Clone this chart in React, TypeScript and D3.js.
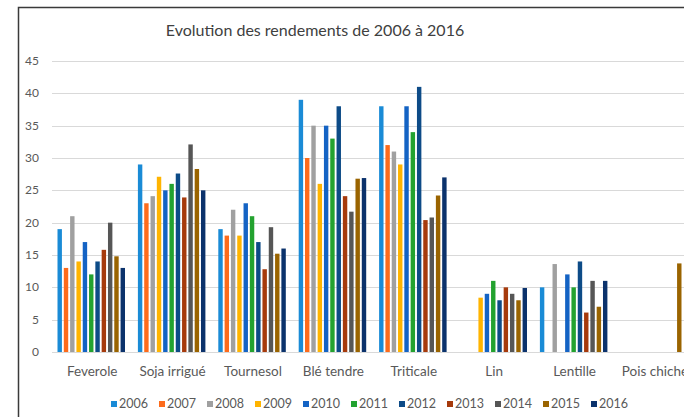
import * as d3 from 'd3';

const categories = ['Feverole', 'Soja irrigué', 'Tournesol', 'Blé tendre', 'Triticale', 'Lin', 'Lentille', 'Pois chiche'];
const years = ['2006', '2007', '2008', '2009', '2010', '2011', '2012', '2013', '2014', '2015', '2016'];
const colors = ['#1a8bd6', '#fd6b1b', '#a0a0a0', '#ffb400', '#1463c4', '#23a22f', '#0d4b87', '#a63a0c', '#565656', '#9a6400', '#0b326c'];

// one array per year, values in category order (null = no bar)
const y2006 = [19, 29, 19, 39, 38, null, 10, null];
const y2007 = [13, 23, 18, 30, 32, null, null, null];
const y2008 = [21, 24.1, 22, 35, 31, null, 13.6, null];
const y2009 = [14, 27.1, 18, 26, 29, 8.4, null, null];
const y2010 = [17, 25, 23, 35, 38, 9, 12, null];
const y2011 = [12, 26, 21, 33, 34, 11, 10, null];
const y2012 = [14, 27.6, 17, 38, 41, 8, 14, null];
const y2013 = [15.8, 23.9, 12.8, 24.1, 20.4, 10, 6.1, null];
const y2014 = [20, 32.1, 19.3, 21.7, 20.8, 9, 11, null];
const y2015 = [14.8, 28.3, 15.2, 26.8, 24.2, 8, 7, 13.7];
const y2016 = [13, 25, 16, 26.9, 27, 9.9, 11, null];

const series = [y2006, y2007, y2008, y2009, y2010, y2011, y2012, y2013, y2014, y2015, y2016];

const yTicks = [0, 5, 10, 15, 20, 25, 30, 35, 40, 45];

const W = 684;
const H = 417;
const font = 'Lato, "Open Sans", sans-serif';
const textColor = '#595959';

export default function App() {
  const x = d3.scaleBand<string>().domain(categories).range([52, 52 + 80.4 * 8]);
  const xi = d3.scaleBand<string>().domain(years).range([5.5, 73]).paddingInner(0.3);
  const y = d3.scaleLinear().domain([0, 45]).range([352, 61]);

  const legendX = d3.scaleBand<string>().domain(years).range([111, 111 + 48 * 11]);

  return (
    <svg width={W} height={H} style={{ position: 'absolute', left: 0, top: 0, background: '#fff' }}>
      {/* frame */}
      <rect x={18.5} y={7.5} width={W} height={H} fill="none" stroke="#3a3a3a" strokeWidth={1.5} />

      <text x={315} y={36} textAnchor="middle" fontFamily={font} fontSize={16} fill="#404040">
        Evolution des rendements de 2006 à 2016
      </text>

      {/* grid + y labels */}
      {yTicks.map(t => (
        <g key={t}>
          <line x1={52} x2={W} y1={Math.round(y(t)) + 0.5} y2={Math.round(y(t)) + 0.5} stroke="#d9d9d9" strokeWidth={1} />
          <text x={39} y={y(t) + 4} textAnchor="end" fontFamily={font} fontSize={12} fill={textColor}>{t}</text>
        </g>
      ))}

      {/* bars */}
      {categories.map((c, ci) => (
        <g key={c} transform={`translate(${x(c)},0)`}>
          {series.map((s, si) => {
            const v = s[ci];
            if (v === null) return null;
            return (
              <rect
                key={years[si]}
                x={xi(years[si])}
                y={y(v)}
                width={xi.bandwidth()}
                height={y(0) - y(v)}
                fill={colors[si]}
              />
            );
          })}
        </g>
      ))}

      {/* category labels */}
      {categories.map(c => (
        <text key={c} x={(x(c) ?? 0) + x.bandwidth() / 2} y={376} textAnchor="middle" fontFamily={font} fontSize={13.5} fill={textColor}>
          {c}
        </text>
      ))}

      {/* legend */}
      {years.map((yr, i) => (
        <g key={yr} transform={`translate(${legendX(yr)},0)`}>
          <rect x={0} y={401} width={6} height={6} fill={colors[i]} />
          <text x={8} y={408} fontFamily={font} fontSize={12.5} fill={textColor}>{yr}</text>
        </g>
      ))}
    </svg>
  );
}
